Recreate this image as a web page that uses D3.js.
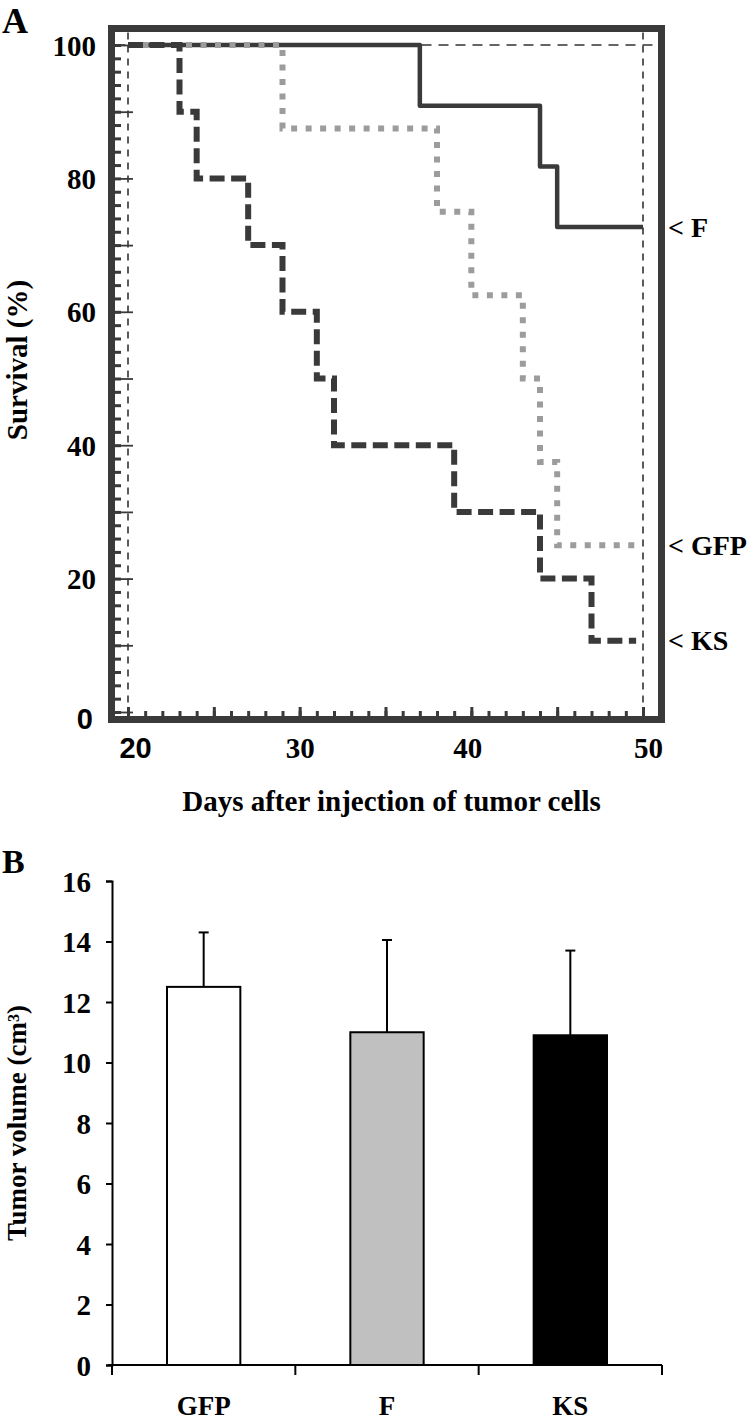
<!DOCTYPE html>
<html>
<head>
<meta charset="utf-8">
<script src="https://cdn.jsdelivr.net/npm/d3@7"></script>
<style>
  html, body { margin: 0; padding: 0; background: #fff; }
  svg { display: block; }
  text { font-family: "Liberation Serif", "Times New Roman", serif; font-weight: bold; fill: #000; }
</style>
</head>
<body>
<svg id="chart" width="750" height="1423"></svg>
<script>
// ---------- Panel A data (Kaplan-Meier survival) ----------
const fDays   = [20, 37, 44, 45, 50];
const fSurv   = [100, 90.9, 81.8, 72.7, 72.7];
const gfpDays = [20, 29, 38, 40, 43, 44, 45, 49.6];
const gfpSurv = [100, 87.5, 75, 62.5, 50, 37.5, 25, 25];
const ksDays  = [20, 23, 24, 27, 29, 31, 32, 39, 44, 47, 49.6];
const ksSurv  = [100, 90, 80, 70, 60, 50, 40, 30, 20, 10.7, 10.7];
const survTicks = [0, 20, 40, 60, 80, 100];
const dayTicks  = [20, 30, 40, 50];
const seriesLabels = ["F", "GFP", "KS"];

// ---------- Panel B data (tumor volume) ----------
const groups   = ["GFP", "F", "KS"];
const volumes  = [12.5, 11.0, 10.9];
const volErrTop = [14.3, 14.05, 13.7];
const volTicks = [0, 2, 4, 6, 8, 10, 12, 14, 16];

const svg = d3.select("#chart");
const dark = "#3a3a3a";

// ================= PANEL A =================
const x = d3.scaleLinear().domain([20, 50]).range([128, 643]);
const y = d3.scaleLinear().domain([0, 100]).range([712, 45]);

const A = svg.append("g");

// frame
const fl = x(20) - 16.5, fr = x(50) + 18.5, ft = y(100) - 16.5, fb = y(0) + 7.5;
A.append("rect")
  .attr("x", fl).attr("y", ft).attr("width", fr - fl).attr("height", fb - ft)
  .attr("fill", "none").attr("stroke", dark).attr("stroke-width", 7);

// dashed reference lines
A.append("line").attr("x1", x(20)).attr("x2", x(20)).attr("y1", ft + 4).attr("y2", y(0))
  .attr("stroke", "#333").attr("stroke-width", 1.6).attr("stroke-dasharray", "7,6");
A.append("line").attr("x1", x(50)).attr("x2", x(50)).attr("y1", ft + 4).attr("y2", y(0))
  .attr("stroke", "#333").attr("stroke-width", 1.6).attr("stroke-dasharray", "7,6");
A.append("line").attr("x1", fl + 4).attr("x2", fr - 6).attr("y1", y(100)).attr("y2", y(100))
  .attr("stroke", "#333").attr("stroke-width", 1.6).attr("stroke-dasharray", "10,7");

// y ticks (inside left frame)
const yMinor = d3.range(0, 101, 2);
const yMajor = d3.range(0, 101, 10);
const gyMin = A.append("g").attr("transform", `translate(${fl + 3.5},0)`)
  .call(d3.axisRight(y).tickValues(yMinor).tickSize(6).tickFormat(""));
gyMin.select(".domain").remove();
gyMin.selectAll("line").attr("stroke", dark).attr("stroke-width", 3);
const gyMaj = A.append("g").attr("transform", `translate(${fl + 3.5},0)`)
  .call(d3.axisRight(y).tickValues(yMajor).tickSize(18).tickFormat(""));
gyMaj.select(".domain").remove();
gyMaj.selectAll("line").attr("stroke", dark).attr("stroke-width", 1.8);

// y tick labels
const gyLab = A.append("g").attr("transform", `translate(96,0)`)
  .call(d3.axisLeft(y).tickValues(survTicks).tickSize(0).tickPadding(0).tickFormat(d3.format("d")));
gyLab.select(".domain").remove();
gyLab.selectAll("text").style("font-size", "29px").attr("dy", "0.35em")
  .style("font-family", d => d === 0 ? "'Liberation Sans', Arial, sans-serif" : null)
  .attr("transform", d => d === 0 ? "translate(-3,6)" : null);

// x ticks (inside bottom frame)
const xMinor = d3.range(20, 51, 1);
const xMajor = d3.range(20, 51, 5);
const gxMin = A.append("g").attr("transform", `translate(0,${fb - 3.5})`)
  .call(d3.axisTop(x).tickValues(xMinor).tickSize(5).tickFormat(""));
gxMin.select(".domain").remove();
gxMin.selectAll("line").attr("stroke", dark).attr("stroke-width", 3);
const gxMaj = A.append("g").attr("transform", `translate(0,${fb - 3.5})`)
  .call(d3.axisTop(x).tickValues(xMajor).tickSize(9).tickFormat(""));
gxMaj.select(".domain").remove();
gxMaj.selectAll("line").attr("stroke", dark).attr("stroke-width", 3);

// x tick labels
const gxLab = A.append("g").attr("transform", `translate(0,748)`)
  .call(d3.axisBottom(x).tickValues(dayTicks).tickSize(0).tickPadding(0).tickFormat(d3.format("d")));
gxLab.select(".domain").remove();
gxLab.selectAll("text").style("font-size", "29px").attr("dy", "0.35em").attr("y", 0)
  .style("font-family", d => d === 20 ? "'Liberation Sans', Arial, sans-serif" : null)
  .attr("dx", d => d === 20 ? 7 : (d === 50 ? 5 : (d === 40 ? -4 : 0)));

// survival curves
const step = d3.line().x(d => x(d[0])).y(d => y(d[1])).curve(d3.curveStepAfter);
const fPts = fDays.map((d, i) => [d, fSurv[i]]);
const gPts = gfpDays.map((d, i) => [d, gfpSurv[i]]);
const kPts = ksDays.map((d, i) => [d, ksSurv[i]]);

A.append("path").attr("d", step(fPts)).attr("fill", "none")
  .attr("stroke", dark).attr("stroke-width", 4.5).attr("stroke-linejoin", "round");
A.append("path").attr("d", step(gPts)).attr("fill", "none")
  .attr("stroke", "#9c9c9c").attr("stroke-width", 6).attr("stroke-dasharray", "6,8.5");
A.append("path").attr("d", step(kPts)).attr("fill", "none")
  .attr("stroke", dark).attr("stroke-width", 6).attr("stroke-dasharray", "15,6.5");

// right-side series labels
const lastVals = [fSurv[fSurv.length - 1], gfpSurv[gfpSurv.length - 1], ksSurv[ksSurv.length - 1]];
A.selectAll("text.slab").data(seriesLabels).join("text")
  .attr("class", "slab")
  .attr("x", 668).attr("y", (d, i) => y(lastVals[i]))
  .attr("dy", "0.35em").style("font-size", "28px")
  .text(d => "< " + d);

// axis titles
A.append("text").attr("x", (x(20) + x(50)) / 2 + 6).attr("y", 811)
  .attr("text-anchor", "middle").style("font-size", "29px")
  .text("Days after injection of tumor cells");
A.append("text").attr("transform", `translate(27,360) rotate(-90)`)
  .attr("text-anchor", "middle").style("font-size", "29px")
  .text("Survival (%)");

// panel letter
A.append("text").attr("x", 2).attr("y", 33).style("font-size", "36px").text("A");

// ================= PANEL B =================
const xb = d3.scaleBand().domain(groups).range([112, 662]).paddingInner(0.6).paddingOuter(0.3);
const yb = d3.scaleLinear().domain([0, 16]).range([1365, 881]);
const B = svg.append("g");

// bars
B.selectAll("rect.bar").data(groups).join("rect")
  .attr("class", "bar")
  .attr("x", d => xb(d)).attr("width", xb.bandwidth())
  .attr("y", (d, i) => yb(volumes[i])).attr("height", (d, i) => yb(0) - yb(volumes[i]))
  .attr("fill", (d, i) => ["#ffffff", "#c0c0c0", "#000000"][i])
  .attr("stroke", "#000").attr("stroke-width", 2);

// error bars (upper only)
B.selectAll("line.err").data(groups).join("line")
  .attr("class", "err")
  .attr("x1", d => xb(d) + xb.bandwidth() / 2).attr("x2", d => xb(d) + xb.bandwidth() / 2)
  .attr("y1", (d, i) => yb(volumes[i])).attr("y2", (d, i) => yb(volErrTop[i]))
  .attr("stroke", "#000").attr("stroke-width", 2);
B.selectAll("line.cap").data(groups).join("line")
  .attr("class", "cap")
  .attr("x1", d => xb(d) + xb.bandwidth() / 2 - 5).attr("x2", d => xb(d) + xb.bandwidth() / 2 + 5)
  .attr("y1", (d, i) => yb(volErrTop[i])).attr("y2", (d, i) => yb(volErrTop[i]))
  .attr("stroke", "#000").attr("stroke-width", 2);

// y axis
const gyb = B.append("g").attr("transform", `translate(112,0)`)
  .call(d3.axisLeft(yb).tickValues(volTicks).tickSize(6).tickPadding(15).tickFormat(d3.format("d")));
gyb.select(".domain").attr("stroke", "#000").attr("stroke-width", 2);
gyb.selectAll("line").attr("stroke", "#000").attr("stroke-width", 2);
gyb.selectAll("text").style("font-size", "29px").attr("dy", "0.35em");

// x axis with ticks at band boundaries
const stepB = xb.step();
const bounds = d3.range(groups.length + 1).map(i => xb.range()[0] + i * stepB);
B.append("line").attr("x1", 108).attr("x2", bounds[bounds.length - 1]).attr("y1", yb(0)).attr("y2", yb(0))
  .attr("stroke", "#000").attr("stroke-width", 2);
B.selectAll("line.xt").data(bounds).join("line")
  .attr("class", "xt")
  .attr("x1", d => d).attr("x2", d => d).attr("y1", yb(0)).attr("y2", yb(0) + 10)
  .attr("stroke", "#000").attr("stroke-width", 2);
B.selectAll("text.xl").data(groups).join("text")
  .attr("class", "xl")
  .attr("x", d => xb(d) + xb.bandwidth() / 2).attr("y", 1415)
  .attr("text-anchor", "middle").style("font-size", "27px")
  .text(d => d);

// y title
B.append("text").attr("transform", `translate(26,${(yb(0) + yb(16)) / 2}) rotate(-90)`)
  .attr("text-anchor", "middle").style("font-size", "27px")
  .text("Tumor volume (cm³)");

// panel letter
B.append("text").attr("x", 2).attr("y", 873).style("font-size", "34px").text("B");
</script>
</body>
</html>
